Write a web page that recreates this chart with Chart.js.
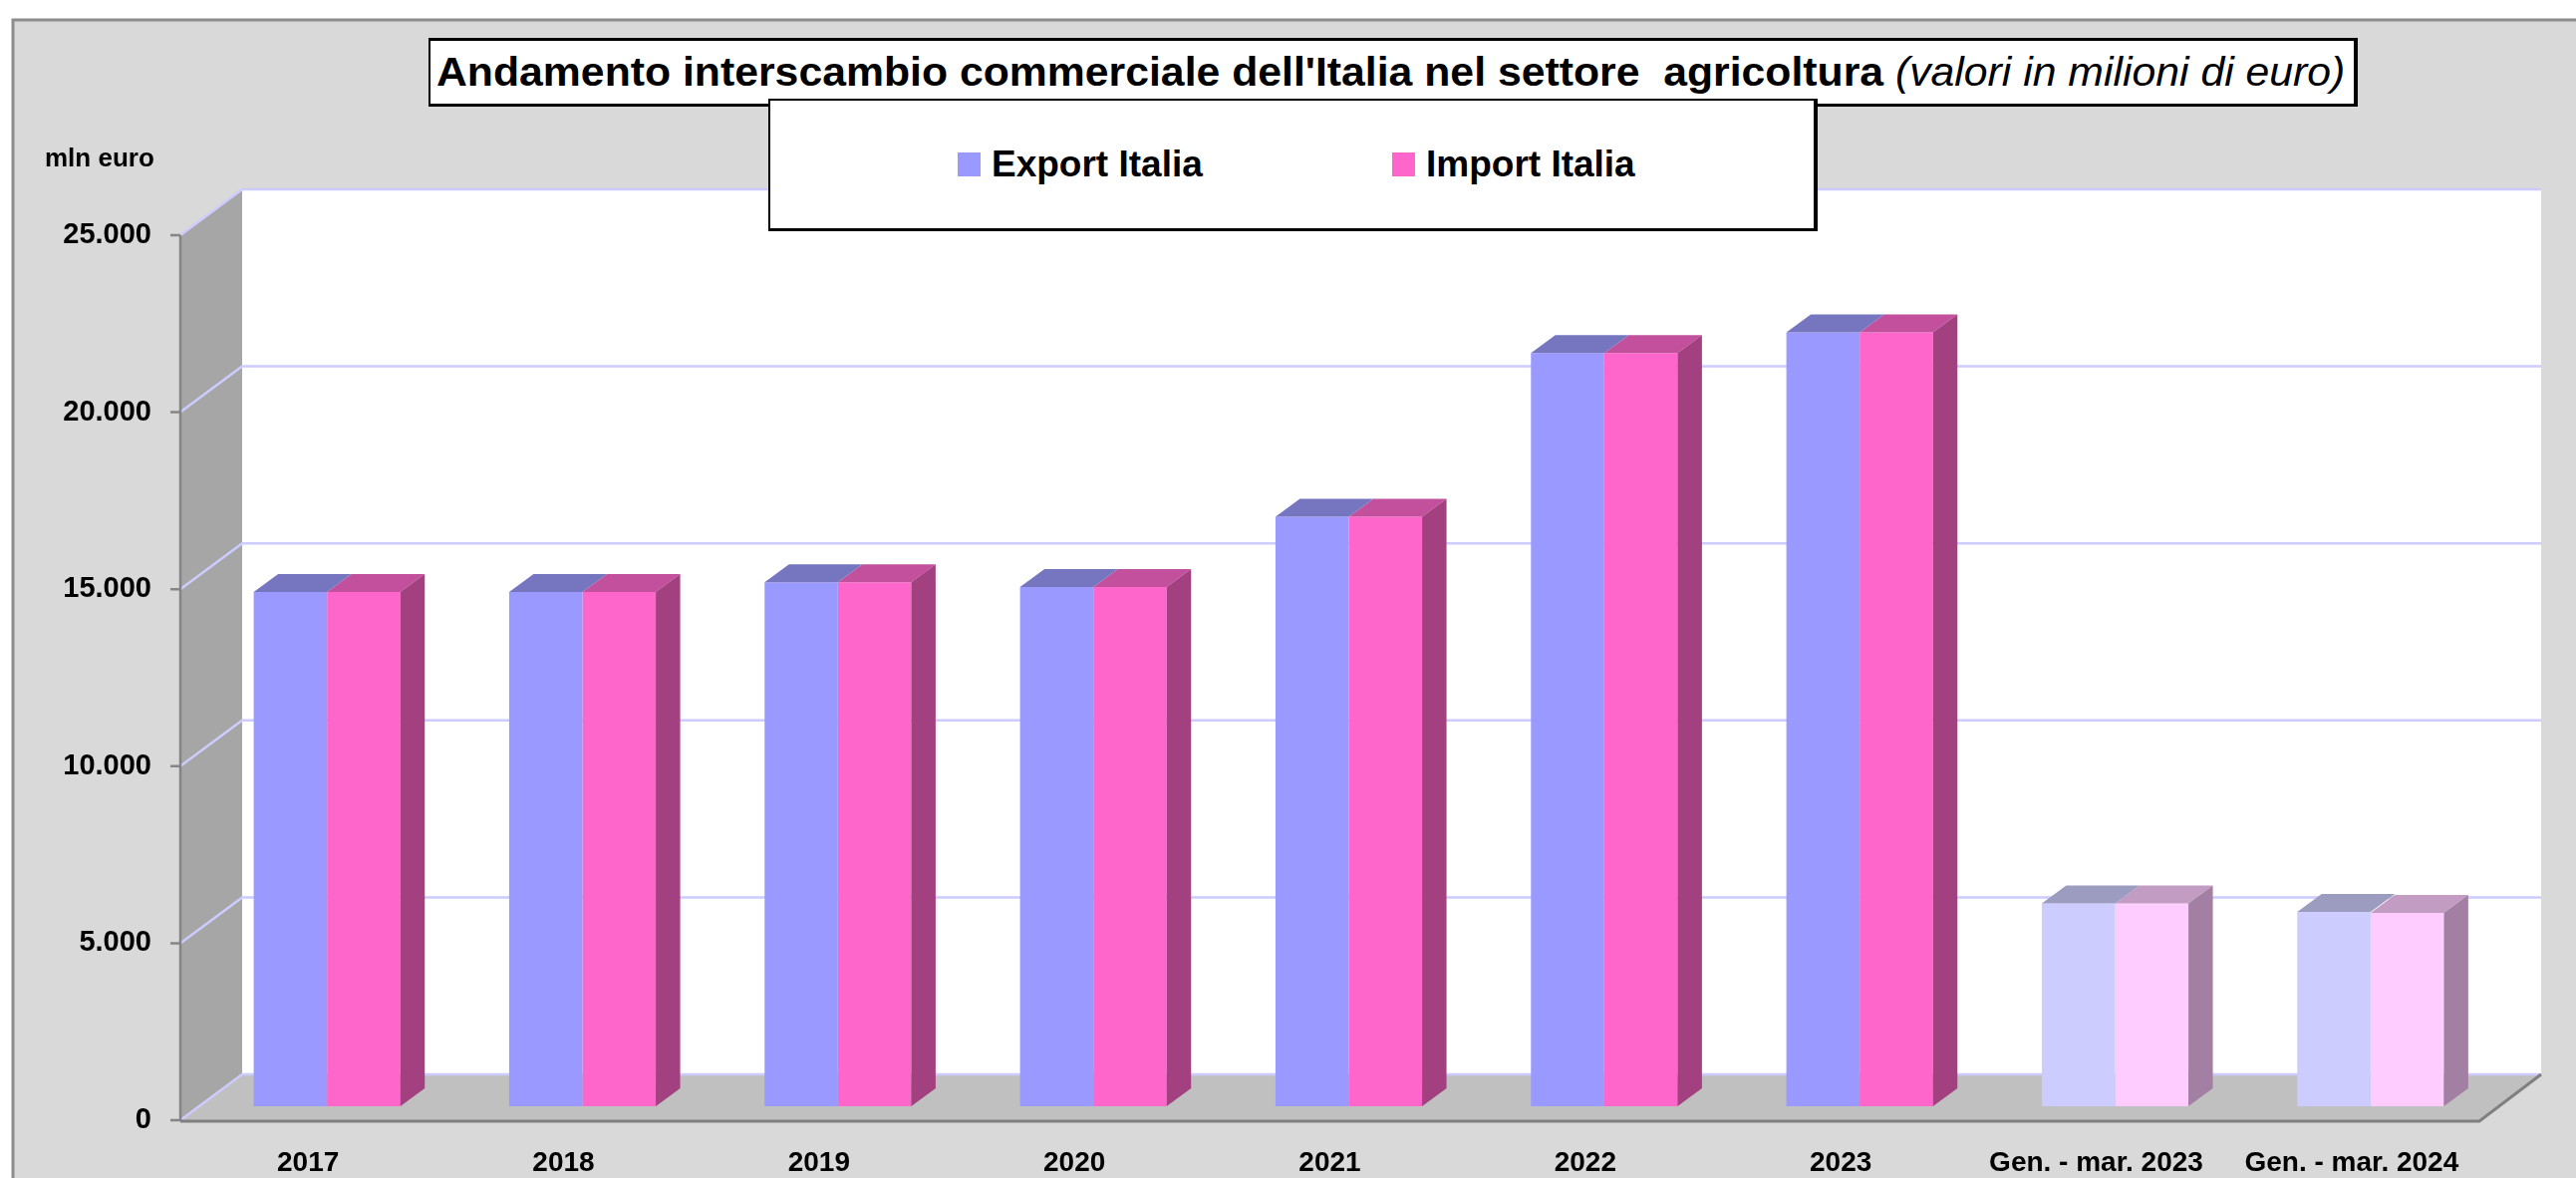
<!DOCTYPE html>
<html>
<head>
<meta charset="utf-8">
<script src="https://cdn.jsdelivr.net/npm/chart.js@4.4.1/dist/chart.umd.min.js"></script>
<style>
  html, body { margin: 0; padding: 0; background: #fff; }
  #wrap { position: relative; width: 2585px; height: 1182px; overflow: hidden;
          font-family: "Liberation Sans", Arial, sans-serif; }
  #chart { position: absolute; left: 0; top: 0; }
  #title { position: absolute; left: 430px; top: 38px; width: 1930px; height: 63px;
           background: #fff; border-style: solid; border-color: #000; border-width: 3px 4px 3px 2px;
           white-space: pre; font-size: 40px; line-height: 63px; overflow: hidden; }
  #title span.inner { display: inline-block; transform-origin: 0 50%; margin-left: 6px; }
  #title i { font-weight: normal; }
  #legend { position: absolute; left: 771px; top: 99px; width: 1047px; height: 128px;
            background: #fff; border-style: solid; border-color: #000; border-width: 2px 4px 3px 2px; }
  .item { position: absolute; top: 0; height: 128px; display: flex; align-items: center;
          font-weight: bold; font-size: 37px; white-space: pre; }
  .item .sw { width: 23px; height: 24px; margin-right: 11px; }
  #unit { position: absolute; left: 45px; top: 143px; font-weight: bold; font-size: 26px; }
</style>
</head>
<body>
<div id="wrap">
  <canvas id="chart" width="2585" height="1182"></canvas>
  <div id="title"><span class="inner"><b>Andamento interscambio commerciale dell'Italia nel settore  agricoltura</b> <i>(valori in milioni di euro)</i></span></div>
  <div id="legend"></div>
  <div id="unit">mln euro</div>
</div>
<script>
// data (milioni di euro)
const categories = ['2017', '2018', '2019', '2020', '2021', '2022', '2023', 'Gen. - mar. 2023', 'Gen. - mar. 2024'];
const exportValues = [14530, 14530, 14800, 14670, 16650, 21280, 21860, 5730, 5490];
const importValues = [14530, 14530, 14800, 14670, 16650, 21280, 21860, 5730, 5460];
const yTicks = [0, 5000, 10000, 15000, 20000, 25000];

// oblique 3d offsets, relative to the plane the bars' front faces sit on
const FRONT = { dx: -19, dy: 14 };
const BACK = { dx: 43, dy: -32 };
const DEPTH = { dx: 24.5, dy: -18 };

const partial = categories.map(c => c.startsWith('Gen.'));
const pick = (full, light) => partial.map(p => (p ? light : full));

const fmt = v => String(v).replace(/\B(?=(\d{3})+(?!\d))/g, '.');

Chart.defaults.font.family = "'Liberation Sans', Arial, sans-serif";

function poly(ctx, pts, fill) {
  ctx.beginPath();
  ctx.moveTo(pts[0][0], pts[0][1]);
  for (let i = 1; i < pts.length; i++) ctx.lineTo(pts[i][0], pts[i][1]);
  ctx.closePath();
  ctx.fillStyle = fill;
  ctx.fill();
}

const scene3d = {
  id: 'scene3d',
  beforeDraw(chart) {
    const { ctx, chartArea: a } = chart;
    const y = chart.scales.y;
    const W = chart.width, H = chart.height;
    ctx.save();
    ctx.fillStyle = '#fff';
    ctx.fillRect(0, 0, W, H);
    ctx.fillStyle = '#d9d9d9';
    ctx.fillRect(12, 19, W - 12, H - 19);
    ctx.strokeStyle = '#8c8c8c';
    ctx.lineWidth = 3;
    ctx.beginPath();
    ctx.moveTo(13, H); ctx.lineTo(13, 20); ctx.lineTo(W, 20);
    ctx.stroke();

    const y0 = y.getPixelForValue(y.min);
    const y1 = y.getPixelForValue(y.max);
    const fl = a.left + FRONT.dx, fr = a.right + FRONT.dx;
    const bl = a.left + BACK.dx, br = a.right + BACK.dx;

    // back wall, side wall, floor
    poly(ctx, [[bl, y1 + BACK.dy], [br, y1 + BACK.dy], [br, y0 + BACK.dy], [bl, y0 + BACK.dy]], '#ffffff');
    poly(ctx, [[fl, y1 + FRONT.dy], [bl, y1 + BACK.dy], [bl, y0 + BACK.dy], [fl, y0 + FRONT.dy]], '#a6a6a6');
    poly(ctx, [[fl, y0 + FRONT.dy], [bl, y0 + BACK.dy], [br, y0 + BACK.dy], [fr, y0 + FRONT.dy]], '#c0c0c0');

    // gridlines on side and back wall
    ctx.strokeStyle = '#ccccff';
    ctx.lineWidth = 2.5;
    y.ticks.forEach(t => {
      const p = y.getPixelForValue(t.value);
      ctx.beginPath();
      ctx.moveTo(fl, p + FRONT.dy);
      ctx.lineTo(bl, p + BACK.dy);
      ctx.lineTo(br, p + BACK.dy);
      ctx.stroke();
    });

    // front value axis with tick marks
    ctx.strokeStyle = '#858585';
    ctx.lineWidth = 2.5;
    ctx.beginPath();
    ctx.moveTo(fl, y1 + FRONT.dy);
    ctx.lineTo(fl, y0 + FRONT.dy);
    y.ticks.forEach(t => {
      const p = y.getPixelForValue(t.value) + FRONT.dy;
      ctx.moveTo(fl - 10, p);
      ctx.lineTo(fl, p);
    });
    ctx.stroke();

    // floor front and right edges
    ctx.strokeStyle = '#808080';
    ctx.lineWidth = 3;
    ctx.beginPath();
    ctx.moveTo(fl, y0 + FRONT.dy + 1);
    ctx.lineTo(fr, y0 + FRONT.dy + 1);
    ctx.lineTo(br, y0 + BACK.dy);
    ctx.stroke();
    ctx.restore();
  },
  afterDatasetDraw(chart, args) {
    const { ctx } = chart;
    const ds = chart.data.datasets[args.index];
    // only the rightmost series of a group shows its side face
    const showSide = args.index === chart.data.datasets.length - 1;
    ctx.save();
    args.meta.data.forEach((bar, i) => {
      const { x, y, base, width } = bar.getProps(['x', 'y', 'base', 'width'], true);
      const l = x - width / 2, r = x + width / 2;
      poly(ctx, [[l, y], [l + DEPTH.dx, y + DEPTH.dy], [r + DEPTH.dx, y + DEPTH.dy], [r, y]], ds.topColor[i]);
      if (showSide) {
        poly(ctx, [[r, y], [r + DEPTH.dx, y + DEPTH.dy], [r + DEPTH.dx, base + DEPTH.dy], [r, base]], ds.sideColor[i]);
      }
    });
    ctx.restore();
  }
};

const chart = new Chart(document.getElementById('chart'), {
  type: 'bar',
  data: {
    labels: categories,
    datasets: [
      {
        label: 'Export Italia',
        data: exportValues,
        backgroundColor: pick('#9999ff', '#ccccff'),
        topColor: pick('#7676c0', '#9c9cc0'),
        sideColor: pick('#5f5f9f', '#8a8aa8'),
        borderWidth: 0,
        categoryPercentage: 0.574,
        barPercentage: 1
      },
      {
        label: 'Import Italia',
        data: importValues,
        backgroundColor: pick('#ff66cc', '#ffccff'),
        topColor: pick('#c2509c', '#c29cc2'),
        sideColor: pick('#a3407f', '#a380a3'),
        borderWidth: 0,
        categoryPercentage: 0.574,
        barPercentage: 1
      }
    ]
  },
  options: {
    responsive: false,
    devicePixelRatio: 1,
    animation: false,
    layout: { padding: { top: 222, right: 78, bottom: 0, left: 0 } },
    plugins: { legend: { display: false }, tooltip: { enabled: false }, title: { display: false } },
    scales: {
      x: {
        grid: { display: false, drawTicks: false },
        border: { display: false },
        ticks: {
          color: '#000', font: { size: 28, weight: 'bold' },
          padding: 40, labelOffset: FRONT.dx, maxRotation: 0, autoSkip: false
        },
        afterFit: s => { s.height = 72; }
      },
      y: {
        min: yTicks[0],
        max: yTicks[yTicks.length - 1],
        afterBuildTicks: s => { s.ticks = yTicks.map(v => ({ value: v })); },
        grid: { display: false, drawTicks: false },
        border: { display: false },
        ticks: {
          color: '#000', font: { size: 29, weight: 'bold' },
          padding: 48, labelOffset: FRONT.dy,
          callback: v => fmt(v)
        },
        afterFit: s => { s.width = 200; }
      }
    }
  },
  plugins: [scene3d]
});

// legend built from the datasets
const legend = document.getElementById('legend');
const itemLeft = [188, 624];
chart.data.datasets.forEach((ds, i) => {
  const it = document.createElement('div');
  it.className = 'item';
  it.style.left = itemLeft[i] + 'px';
  const sw = document.createElement('span');
  sw.className = 'sw';
  sw.style.background = ds.backgroundColor[0];
  it.appendChild(sw);
  it.appendChild(document.createTextNode(ds.label));
  legend.appendChild(it);
});

// squeeze the title to the width of its box, as in the original
const inner = document.querySelector('#title .inner');
const target = 1915;
inner.style.transform = 'scaleX(' + (target / inner.offsetWidth) + ')';
</script>
</body>
</html>
